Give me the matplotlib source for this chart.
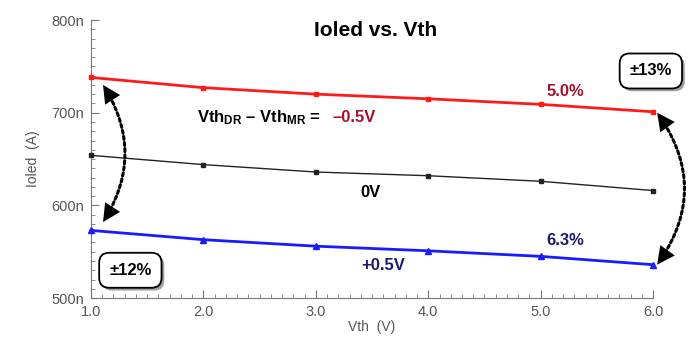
import matplotlib.pyplot as plt
import matplotlib.patheffects as pe
from matplotlib.ticker import MultipleLocator, FuncFormatter

plt.rcParams['font.family'] = ['Liberation Sans', 'DejaVu Sans']
plt.rcParams['mathtext.fontset'] = 'custom'
plt.rcParams['mathtext.rm'] = 'Liberation Sans:bold'
plt.rcParams['mathtext.it'] = 'Liberation Sans:bold'
plt.rcParams['mathtext.bf'] = 'Liberation Sans:bold'

# Vth (V) and Ioled (nA) for three Vth_DR - Vth_MR offsets
vth = [1.0, 2.0, 3.0, 4.0, 5.0, 6.0]
ioled_neg = [738, 727, 720, 715, 709, 701]   # -0.5V
ioled_zero = [654, 644, 636, 632, 626, 616]  # 0V
ioled_pos = [573, 563, 556, 551, 545, 536]   # +0.5V

x_ticks = [1.0, 2.0, 3.0, 4.0, 5.0, 6.0]
y_ticks = [500, 600, 700, 800]

gray = '#777777'
red = '#ff1a1a'
blue = '#1a1aff'
dred = '#a8102a'
navy = '#1a1a6e'

fig = plt.figure(figsize=(7, 3.45), dpi=100)
ax = fig.add_axes([0.13, 0.136, 0.803, 0.806])

ax.plot(vth, ioled_neg, color=red, lw=2, marker='s', ms=3.5, clip_on=False, zorder=3)
ax.plot(vth, ioled_zero, color='#222222', lw=1, marker='s', ms=2.5, clip_on=False, zorder=3)
ax.plot(vth, ioled_pos, color=blue, lw=2, marker='^', ms=4.5, clip_on=False, zorder=3)

ax.set_xlim(1, 6)
ax.set_ylim(500, 800)
ax.set_xticks(x_ticks)
ax.set_yticks(y_ticks)
ax.xaxis.set_minor_locator(MultipleLocator(0.1))
ax.yaxis.set_minor_locator(MultipleLocator(10))
ax.xaxis.set_major_formatter(FuncFormatter(lambda v, p: '%.1f' % v))
ax.yaxis.set_major_formatter(FuncFormatter(lambda v, p: '%dn' % v))
ax.tick_params(which='both', direction='in', color=gray, labelcolor='#555555', labelsize=10.5)
ax.tick_params(which='major', length=6, pad=5)
ax.tick_params(which='minor', length=3)
for s in ['top', 'right']:
    ax.spines[s].set_visible(False)
for s in ['left', 'bottom']:
    ax.spines[s].set_color(gray)

ax.set_xlabel('Vth  (V)', color='#555555', fontsize=10, labelpad=1)
ax.set_ylabel('Ioled  (A)', color='#555555', fontsize=10, labelpad=8)

ax.text(3.53, 789, 'Ioled vs. Vth', ha='center', va='center', fontsize=15, fontweight='bold')
ax.text(1.94, 695, r'Vth$_{DR}$ – Vth$_{MR}$ = ', ha='left', va='center',
        fontsize=12, fontweight='bold')
ax.text(3.15, 695, '–0.5V', ha='left', va='center', fontsize=12, fontweight='bold', color=dred)
ax.text(3.49, 614, '0V', ha='center', va='center', fontsize=12, fontweight='bold')
ax.text(3.60, 535, '+0.5V', ha='center', va='center', fontsize=12, fontweight='bold', color=navy)
ax.text(5.22, 723, '5.0%', ha='center', va='center', fontsize=12, fontweight='bold', color=dred)
ax.text(5.22, 562, '6.3%', ha='center', va='center', fontsize=12, fontweight='bold', color=navy)

for xx, yy, s in [(5.98, 745, '±13%'), (1.35, 530, '±12%')]:
    t = ax.text(xx, yy, s, ha='center', va='center', fontsize=12, fontweight='bold',
                bbox=dict(boxstyle='round,pad=0.6', fc='white', ec='black', lw=1.3))
    t.get_bbox_patch().set_path_effects([pe.withSimplePatchShadow(offset=(2, -2), shadow_rgbFace='#888888', alpha=0.8)])

# dotted arcs, then solid heads drawn on the same arcs
arcs = [((1.107, 582), (1.107, 730), -0.32), ((6.036, 536), (6.036, 700), -0.36)]
for end, start, rad in arcs:
    ax.annotate('', xy=end, xytext=start, annotation_clip=False,
                arrowprops=dict(arrowstyle='-', color='black', lw=2.2, linestyle=(0, (1, 1)),
                                shrinkA=5, shrinkB=5, connectionstyle='arc3,rad=%g' % rad))
    ax.annotate('', xy=end, xytext=start, annotation_clip=False,
                arrowprops=dict(arrowstyle='<|-|>,head_length=0.8,head_width=0.4', fc='black',
                                ec='none', lw=0, shrinkA=0, shrinkB=0, mutation_scale=16,
                                connectionstyle='arc3,rad=%g' % rad))

fig.savefig('out.png')
